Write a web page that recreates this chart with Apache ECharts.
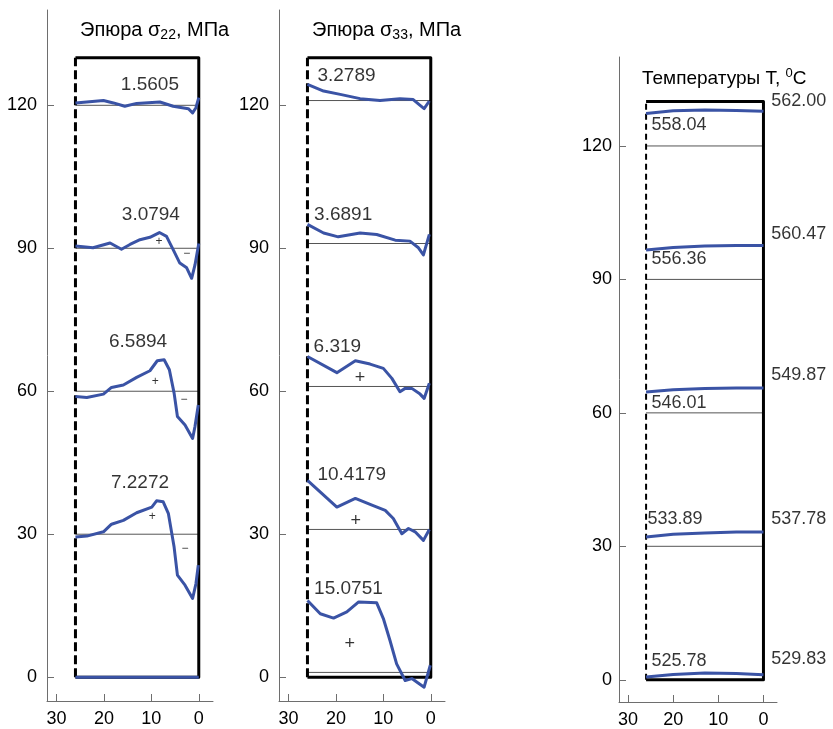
<!DOCTYPE html>
<html>
<head>
<meta charset="utf-8">
<script src="https://cdn.jsdelivr.net/npm/echarts@6/dist/echarts.min.js"></script>
<style>html,body{margin:0;padding:0;background:#fff;}#c{width:833px;height:729px;}</style>
</head>
<body>
<div id="c"></div>
<script>
// ---- axis ticks ----
const xTicks = [0, 10, 20, 30];
const yTicks = [0, 30, 60, 90, 120];

// ---- box (depth 0..26, height 0..130) ----
const boxDepth = 26;
const boxTop = 130;

// ---- panel 1: sigma22 curves [depth, height] ----
const s22_120 = [[26,120.5],[20.1,121.0],[18,120.5],[15.6,119.8],[13.1,120.4],[8.2,120.7],[5.4,119.8],[2.2,119.3],[1.3,118.4],[0.6,119.5],[0,121.6]];
const s22_90 = [[26,90.5],[22.3,90.1],[18.7,91.1],[16.3,89.8],[14.5,90.8],[12.4,91.8],[10.3,92.3],[8.3,93.3],[6.8,92.5],[5.4,89.7],[4.0,86.9],[2.55,85.9],[1.5,83.7],[0.8,86.5],[0,91]];
const s22_60 = [[26,58.9],[23.6,58.7],[20.1,59.4],[18.4,60.8],[15.9,61.3],[13.1,62.9],[10.3,64.3],[8.75,66.4],[7.3,66.6],[6.2,64.5],[5.2,59.6],[4.5,54.7],[2.9,52.9],[1.3,50.1],[0.8,52.6],[0.1,57.1]];
const s22_30 = [[26,29.4],[23.6,29.6],[20.1,30.5],[18.4,32.1],[15.9,32.9],[13.1,34.5],[9.9,35.7],[8.9,37.0],[7.5,36.8],[6.4,34.3],[5.2,27.3],[4.5,21.4],[2.9,19.3],[1.3,16.5],[0.6,19.6],[0.1,23.5]];
const s22_0 = [[26,0],[0,0]];
const base22 = [120, 90, 60, 30];

// ---- panel 2: sigma33 curves ----
const s33_120 = [[26,124.4],[22.6,123.0],[19.1,122.3],[14.9,121.4],[10.7,121.0],[6.5,121.4],[3.7,121.2],[2.25,120.0],[1.4,119.3],[0.3,120.9]];
const s33_90 = [[26,95.0],[22.6,93.2],[19.5,92.4],[14.9,93.2],[11.4,92.9],[7.5,91.7],[4.4,91.5],[2.6,90.1],[1.55,88.6],[0.3,92.9]];
const s33_60 = [[26,67.3],[19.8,63.9],[15.9,66.4],[12.8,65.7],[10.0,64.8],[8.2,62.7],[6.5,59.9],[5.4,60.6],[4.0,60.6],[2.25,59.4],[1.4,58.5],[0.3,61.7]];
const s33_30 = [[26,41.3],[19.8,35.7],[15.9,37.5],[12.4,36.1],[9.6,35.0],[7.9,33.3],[6.1,30.1],[4.7,31.2],[3.3,30.5],[1.55,28.7],[0.3,31.0]];
const s33_0 = [[26,16.1],[23.3,13.3],[20.5,12.4],[17.7,13.7],[15.2,15.8],[11.4,15.6],[10.0,12.3],[8.6,7.7],[7.2,2.8],[5.4,-0.7],[4.0,-0.3],[1.4,-2.1],[0.1,2.5]];
const base33 = [121, 91, 61, 31, 1];

// ---- panel 3: temperatures ----
const tDepth = [26, 20, 13, 6, 0];
const t_128 = [127.3, 127.9, 128.1, 128.0, 127.8];
const t_97 = [96.6, 97.2, 97.5, 97.6, 97.6];
const t_65 = [64.7, 65.2, 65.5, 65.6, 65.6];
const t_33 = [32.1, 32.7, 33.0, 33.2, 33.2];
const t_1 = [0.6, 1.2, 1.5, 1.4, 1.1];
const baseT = [120, 90, 60, 30];

// ---- annotation labels [depth, height, text] ----
const lab22 = [[10.3,124.4,'1.5605'],[10.1,97.1,'3.0794'],[12.8,70.4,'6.5894'],[12.4,40.7,'7.2272']];
const sign22 = [[8.4,91.4,'+'],[2.55,88.9,'−'],[9.2,61.9,'+'],[3.1,58.2,'−'],[9.8,33.6,'+'],[2.9,27.0,'−']];
const lab33 = [[23.9,126.1,'3.2789'],[24.6,97.1,'3.6891'],[24.7,69.4,'6.319'],[23.9,42.4,'10.4179'],[24.6,18.6,'15.0751']];
const sign33 = [[14.9,62.7,'+'],[15.8,32.8,'+'],[17.1,6.9,'+']];
const labTL = [[24.8,124.6,'558.04'],[24.8,94.5,'556.36'],[24.8,62.2,'546.01'],[25.7,36.1,'533.89'],[24.8,4.1,'525.78']];
const labTR = [[-1.7,130.0,'562.00'],[-1.7,100.2,'560.47'],[-1.7,68.4,'549.87'],[-1.7,36.1,'537.78'],[-1.7,4.6,'529.83']];

const BLUE = '#3a53a5';
const AX = '#6e6e6e';
const FONT = 'Liberation Sans, Arial, sans-serif';

const grids = [
  {left: 47, top: 10, width: 166, height: 691},
  {left: 279, top: 10, width: 166, height: 691},
  {left: 619, top: 57, width: 158, height: 649}
];

function xAx(i) {
  return {
    type: 'value', gridIndex: i, inverse: true, min: -3, max: 32,
    axisLine: {show: true, onZero: false, lineStyle: {color: AX, width: 1}},
    axisTick: {show: true, inside: true, length: 7, customValues: xTicks, lineStyle: {color: AX}},
    axisLabel: {customValues: xTicks, color: '#000', fontSize: 18, fontFamily: FONT, margin: 9},
    splitLine: {show: false}
  };
}
function yAx(i) {
  return {
    type: 'value', gridIndex: i, min: -5, max: 140,
    axisLine: {show: true, onZero: false, lineStyle: {color: AX, width: 1}},
    axisTick: {show: true, inside: true, length: 7, customValues: yTicks, lineStyle: {color: AX}},
    axisLabel: {customValues: yTicks, color: '#000', fontSize: 18, fontFamily: FONT, margin: i === 2 ? 7 : 10},
    splitLine: {show: false}
  };
}

const series = [];
function line(i, data, color, width, type, z) {
  series.push({
    type: 'line', xAxisIndex: i, yAxisIndex: i, data: data, showSymbol: false, symbol: 'none',
    silent: true, clip: false, z: z,
    lineStyle: {color: color, width: width, type: type || 'solid', cap: 'butt', join: 'round'}
  });
}
function labels(i, data, size, align) {
  series.push({
    type: 'scatter', xAxisIndex: i, yAxisIndex: i, symbolSize: 0, silent: true, z: 10,
    data: data.map(d => ({value: [d[0], d[1]], name: d[2]})),
    label: {show: true, position: [0, 0], align: align, verticalAlign: 'middle',
      formatter: p => p.name, color: '#000', fontSize: size, fontFamily: FONT, textBorderWidth: 0}
  });
}

[0, 1, 2].forEach(i => {
  const bases = i === 0 ? base22 : (i === 1 ? base33 : baseT);
  bases.forEach(b => line(i, [[boxDepth, b], [0, b]], '#555', 1, 'solid', 2));
  const dashW = i === 2 ? 2 : 3;
  line(i, [[boxDepth, boxTop], [0, boxTop], [0, 0], [boxDepth, 0]], '#000', 3, 'solid', 3);
  line(i, [[boxDepth, 0], [boxDepth, boxTop]], '#000', dashW, i === 2 ? [6, 4] : [9, 4], 3);
});

[s22_120, s22_90, s22_60, s22_30, s22_0].forEach(d => line(0, d, BLUE, 3, 'solid', 5));
[s33_120, s33_90, s33_60, s33_30, s33_0].forEach(d => line(1, d, BLUE, 3, 'solid', 5));
[t_128, t_97, t_65, t_33, t_1].forEach(v => line(2, tDepth.map((x, k) => [x, v[k]]), BLUE, 3, 'solid', 5));

labels(0, lab22, 19, 'center');
labels(0, sign22, 12, 'center');
labels(1, lab33, 19, 'left');
labels(1, sign33, 18, 'center');
labels(2, labTL, 18, 'left');
labels(2, labTR, 18, 'left');

const chart = echarts.init(document.getElementById('c'), null, {renderer: 'canvas'});
chart.setOption({
  animation: false,
  backgroundColor: '#fff',
  grid: grids,
  xAxis: [xAx(0), xAx(1), xAx(2)],
  yAxis: [yAx(0), yAx(1), yAx(2)],
  graphic: [
    {type: 'text', left: 80, top: 20, style: {text: '{a|Эпюра σ}{s|22}{a|, МПа}', fill: '#000',
      rich: {a: {fontSize: 20, lineHeight: 24, fontFamily: FONT}, s: {fontSize: 14, lineHeight: 10, verticalAlign: 'bottom', fontFamily: FONT}}}},
    {type: 'text', left: 312, top: 20, style: {text: '{a|Эпюра σ}{s|33}{a|, МПа}', fill: '#000',
      rich: {a: {fontSize: 20, lineHeight: 24, fontFamily: FONT}, s: {fontSize: 14, lineHeight: 10, verticalAlign: 'bottom', fontFamily: FONT}}}},
    {type: 'text', left: 642, top: 67, style: {text: '{a|Температуры Т, }{p|0}{a|C}', fill: '#000',
      rich: {a: {fontSize: 19, lineHeight: 24, fontFamily: FONT}, p: {fontSize: 13, lineHeight: 11, verticalAlign: 'top', fontFamily: FONT}}}}
  ],
  series: series
});
</script>
</body>
</html>
